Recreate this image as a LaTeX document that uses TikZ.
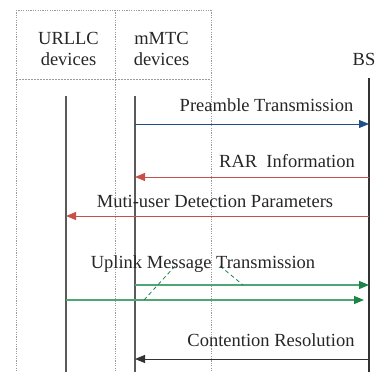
\documentclass[tikz,border=0pt]{standalone}
\usepackage{fontspec}
\setmainfont{Liberation Serif}
\usetikzlibrary{arrows.meta}
\definecolor{msgblue}{HTML}{1F4E89}
\definecolor{msgred}{HTML}{C8504A}
\definecolor{msggreen}{HTML}{4FA674}
\definecolor{tipgreen}{HTML}{1B8545}
\definecolor{lifegray}{HTML}{5A5A5A}
\definecolor{dotgray}{HTML}{9A9A9A}
\tikzset{
  x=1pt, y=-1pt,
  lbl/.style={anchor=base, inner sep=0pt, font=\fontsize{18.5}{20}\selectfont, text=black!85},
  hdr/.style={anchor=base, inner sep=0pt, font=\fontsize{18.5}{20}\selectfont, text=black!85, align=center},
  guide/.style={draw=dotgray, line width=0.7pt, dash pattern=on 1.2pt off 1.2pt},
  lifeline/.style={draw=lifegray, line width=1.1pt},
  msg/.style={line width=1pt, -{Triangle[length=10pt,width=8pt]}},
  greenmsg/.style={draw=msggreen, line width=1.2pt, -{Triangle[length=10pt,width=8pt,color=tipgreen]}},
  greendash/.style={draw=tipgreen, line width=0.8pt, dash pattern=on 4pt off 3pt}
}
\begin{document}
\begin{tikzpicture}
\useasboundingbox (0,0) rectangle (378,372);
% guides
\coordinate (gA) at (16,10);  \coordinate (gAb) at (16,372);
\coordinate (gB) at (115,10); \coordinate (gBb) at (115,372);
\coordinate (gC) at (211,10); \coordinate (gCb) at (211,372);
\coordinate (hL) at (16,79);  \coordinate (hR) at (211,79);
\draw[guide] (gA) -- (gC);
\draw[draw=dotgray, line width=0.7pt, dash pattern=on 2pt off 1pt] (hL) -- (hR);
\draw[guide] (gA) -- (gAb);
\draw[guide] (gB) -- (gBb);
\draw[guide] (gC) -- (gCb);
% headers
\node[hdr] (hU) at (68.5,45) {URLLC};
\node[hdr] (hU2) at (68.5,65) {devices};
\node[hdr] (hM) at (161.5,45) {mMTC};
\node[hdr] (hM2) at (161.5,65) {devices};
\node[hdr] (hB) at (364,65) {BS};
% lifelines
\coordinate (uT) at (66,96);  \coordinate (uB) at (66,372);
\coordinate (mT) at (135,96); \coordinate (mB) at (135,372);
\coordinate (bT) at (369,78); \coordinate (bB) at (369,372);
\draw[lifeline] (uT) -- (uB);
\draw[lifeline] (mT) -- (mB);
\draw[draw=black!80, line width=1.1pt] (bT) -- (bB);
% message endpoints
\coordinate (m1) at (135,124); \coordinate (b1) at (369,124);
\coordinate (b2) at (369,177); \coordinate (m2) at (135,177);
\coordinate (b3) at (369,216); \coordinate (u3) at (66,216);
\coordinate (m4) at (135,285); \coordinate (b4) at (369,285);
\coordinate (u5) at (66,300);  \coordinate (b5) at (364,300);
\coordinate (b6) at (369,359); \coordinate (m6) at (135,359);
\draw[msg, draw=msgblue, -{Triangle[length=10pt,width=8pt,color=msgblue]}] (m1) -- (b1);
\draw[msg, draw=msgred] (b2) -- (m2);
\draw[msg, draw=msgred] (b3) -- (u3);
\draw[greenmsg] (m4) -- (b4);
\draw[greenmsg] (u5) -- (b5);
\draw[msg, draw=black!80] (b6) -- (m6);
% dashed green
\coordinate (d1a) at (144,300); \coordinate (d1b) at (176,265);
\coordinate (d2a) at (220,266); \coordinate (d2b) at (243,285);
\draw[greendash] (d1a) -- (d1b);
\draw[greendash] (d2a) -- (d2b);
% labels
\node[lbl] (l1) at (266.5,111.5) {Preamble Transmission};
\node[lbl] (l2) at (287,167) {RAR\ \ Information};
\node[lbl] (l3) at (215,207) {Muti-user Detection Parameters};
\node[lbl] (l4) at (203,268) {Uplink Message Transmission};
\node[lbl] (l5) at (271,346) {Contention Resolution};
\end{tikzpicture}
\end{document}
